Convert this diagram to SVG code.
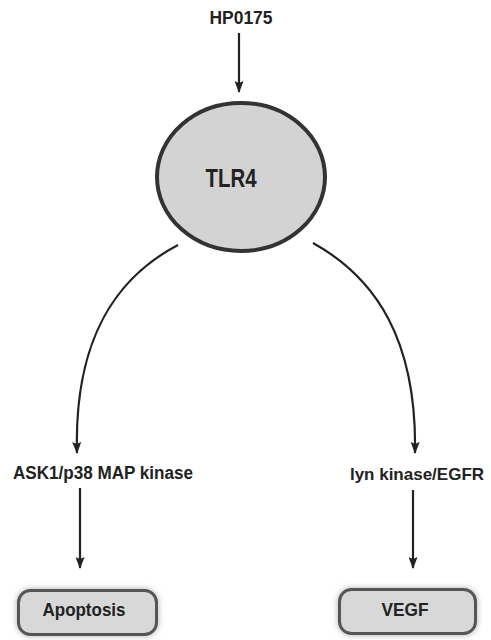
<svg xmlns="http://www.w3.org/2000/svg" width="491" height="640" viewBox="0 0 491 640">
<style>
  .lbl { font-family: "Liberation Sans", Arial, sans-serif; font-weight: bold; fill: #222; text-anchor: middle; }
  .conn { fill: none; stroke: #222; stroke-width: 2.2; }
  .box { fill: #d8d8d8; stroke: #555; stroke-width: 3; }
</style>
<defs>
  <marker id="arr" viewBox="0 0 12 9" refX="11" refY="4.5" markerWidth="12" markerHeight="9" markerUnits="userSpaceOnUse" orient="auto">
    <path d="M0,0 L12,4.5 L0,9 L2,4.5 Z" fill="#222"/>
  </marker>
  <filter id="glow" x="-20%" y="-40%" width="140%" height="180%">
    <feGaussianBlur in="SourceAlpha" stdDeviation="3" result="b"/>
    <feFlood flood-color="#999" flood-opacity="0.8"/>
    <feComposite in2="b" operator="in" result="s"/>
    <feMerge><feMergeNode in="s"/><feMergeNode in="SourceGraphic"/></feMerge>
  </filter>
</defs>
<rect width="491" height="640" fill="#fff"/>
<g id="connectors">
  <line class="conn" x1="239" y1="33" x2="239" y2="92" marker-end="url(#arr)"/>
  <path class="conn" d="M178,245 C115,278 74,340 77,453" marker-end="url(#arr)"/>
  <path class="conn" d="M313,243 C376,278 417,340 415,453" marker-end="url(#arr)"/>
  <line class="conn" x1="80" y1="488" x2="80" y2="568" marker-end="url(#arr)"/>
  <line class="conn" x1="413" y1="490" x2="413" y2="568" marker-end="url(#arr)"/>
</g>
<g id="hp0175">
  <text class="lbl" x="241" y="24" font-size="18" textLength="63" lengthAdjust="spacingAndGlyphs">HP0175</text>
</g>
<g id="tlr4">
  <ellipse cx="241" cy="177" rx="84" ry="74" fill="#d3d3d3" stroke="#333" stroke-width="4"/>
  <text class="lbl" x="231" y="187" font-size="25" textLength="51" lengthAdjust="spacingAndGlyphs">TLR4</text>
</g>
<g id="ask1">
  <text class="lbl" x="103" y="479" font-size="18" textLength="180" lengthAdjust="spacingAndGlyphs">ASK1/p38 MAP kinase</text>
</g>
<g id="lyn">
  <text class="lbl" x="417" y="480" font-size="17">lyn kinase/EGFR</text>
</g>
<g id="apoptosis">
  <rect class="box" x="18.5" y="590.5" width="138" height="44" rx="12" filter="url(#glow)"/>
  <text class="lbl" x="84" y="616" font-size="18" textLength="83" lengthAdjust="spacingAndGlyphs">Apoptosis</text>
</g>
<g id="vegf">
  <rect class="box" x="339.5" y="589.5" width="136" height="44" rx="12" filter="url(#glow)"/>
  <text class="lbl" x="405" y="616" font-size="18" textLength="47" lengthAdjust="spacingAndGlyphs">VEGF</text>
</g>
</svg>
